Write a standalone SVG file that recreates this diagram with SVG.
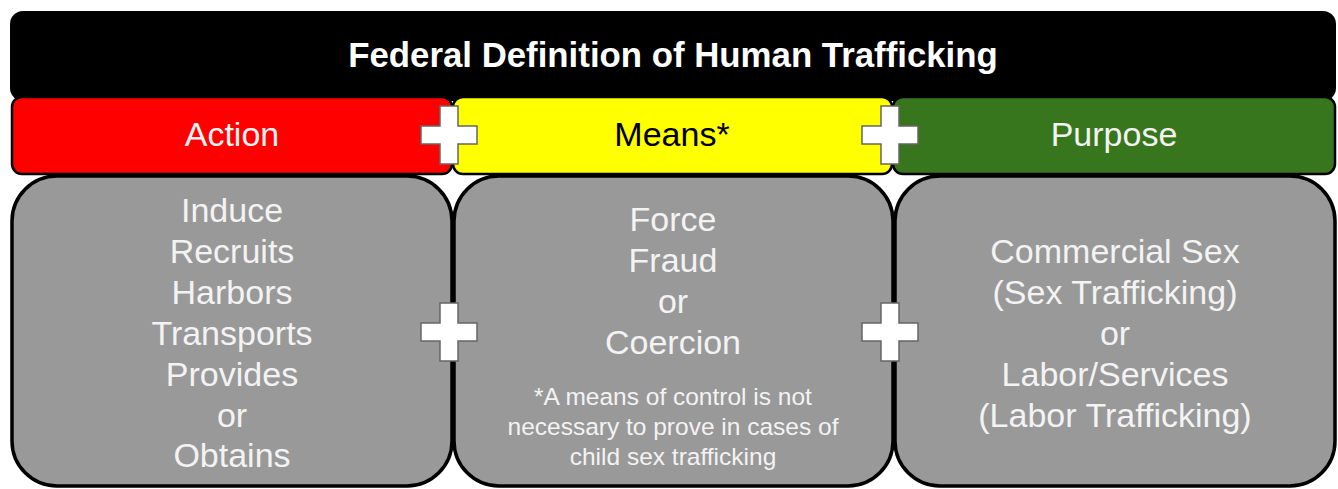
<svg xmlns="http://www.w3.org/2000/svg" width="1338" height="489" viewBox="0 0 1338 489">
<style>
.hdr{stroke:#000;stroke-width:2.5}
.box{fill:#999999;stroke:#000;stroke-width:3.5}
.t{font-family:"Liberation Sans",Arial,sans-serif;font-size:34px;text-anchor:middle;fill:#f3f3f3}
.n{font-family:"Liberation Sans",Arial,sans-serif;font-size:24.5px;text-anchor:middle;fill:#f3f3f3}
.plus{fill:#ffffff;stroke:#666666;stroke-width:1.5}
</style>
<defs>
<path id="plus" d="M-9,-29 H9 V-9 H28 V9 H9 V29 H-9 V9 H-28 V-9 H-9 Z"/>
</defs>
<rect width="1338" height="489" fill="#ffffff"/>
<g id="title">
<rect x="10" y="11" width="1326" height="90" rx="13" fill="#000"/>
<text x="673" y="67" class="t" style="font-weight:bold;font-size:34.8px;fill:#ffffff">Federal Definition of Human Trafficking</text>
</g>
<g id="action-header">
<rect x="12" y="97" width="440" height="77" rx="10" class="hdr" fill="#ff0000"/>
<text x="232" y="146" class="t" fill="#ffffff">Action</text>
</g>
<g id="means-header">
<rect x="453" y="97" width="439" height="77" rx="10" class="hdr" fill="#ffff00"/>
<text x="672" y="146" class="t" style="fill:#000">Means*</text>
</g>
<g id="purpose-header">
<rect x="893" y="97" width="442" height="77" rx="10" class="hdr" fill="#38761d"/>
<text x="1114" y="146" class="t">Purpose</text>
</g>
<g id="action-box">
<rect x="12" y="176" width="440" height="310" rx="45" class="box"/>
<text class="t"><tspan x="232" y="222">Induce</tspan><tspan x="232" y="263">Recruits</tspan><tspan x="232" y="304">Harbors</tspan><tspan x="232" y="345">Transports</tspan><tspan x="232" y="386">Provides</tspan><tspan x="232" y="427">or</tspan><tspan x="232" y="467">Obtains</tspan></text>
</g>
<g id="means-box">
<rect x="454" y="176" width="439" height="310" rx="45" class="box"/>
<text class="t"><tspan x="673" y="231">Force</tspan><tspan x="673" y="272">Fraud</tspan><tspan x="673" y="313">or</tspan><tspan x="673" y="354">Coercion</tspan></text>
<text class="n"><tspan x="673" y="405">*A means of control is not</tspan><tspan x="673" y="435">necessary to prove in cases of</tspan><tspan x="673" y="465">child sex trafficking</tspan></text>
</g>
<g id="purpose-box">
<rect x="895" y="176" width="440" height="310" rx="45" class="box"/>
<text class="t"><tspan x="1115" y="263">Commercial Sex</tspan><tspan x="1115" y="304">(Sex Trafficking)</tspan><tspan x="1115" y="345">or</tspan><tspan x="1115" y="386">Labor/Services</tspan><tspan x="1115" y="427">(Labor Trafficking)</tspan></text>
</g>
<g id="connectors">
<use href="#plus" class="plus" x="449" y="135"/>
<use href="#plus" class="plus" x="890" y="135"/>
<use href="#plus" class="plus" x="449" y="332"/>
<use href="#plus" class="plus" x="890" y="332"/>
</g>
</svg>
